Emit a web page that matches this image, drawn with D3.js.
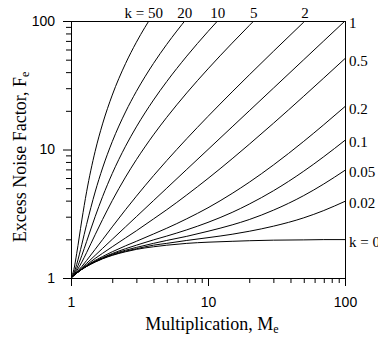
<!DOCTYPE html>
<html>
<head>
<meta charset="utf-8">
<script src="https://cdn.jsdelivr.net/npm/d3@7"></script>
<style>
  html, body { margin: 0; padding: 0; background: #fff; }
  svg { display: block; }
</style>
</head>
<body>
<svg id="chart" width="378" height="338"></svg>
<script>
// Multiplication values shared by every curve
const multiplication = [1, 1.05, 1.1, 1.2, 1.3, 1.5, 1.7, 2, 2.5, 3, 4, 5, 7, 10, 15, 20, 30, 50, 70, 100];

// Excess noise factor for each ionisation ratio k (same order as multiplication)
const fK0    = [1, 1.05, 1.09, 1.17, 1.23, 1.33, 1.41, 1.5, 1.6, 1.67, 1.75, 1.8, 1.86, 1.9, 1.93, 1.95, 1.97, 1.98, 1.99, 1.99];
const fK002  = [1, 1.048, 1.091, 1.167, 1.232, 1.337, 1.418, 1.51, 1.618, 1.69, 1.80, 1.86, 1.96, 2.06, 2.19, 2.31, 2.53, 2.94, 3.35, 3.95];
const fK005  = [1, 1.048, 1.091, 1.17, 1.234, 1.34, 1.426, 1.53, 1.645, 1.73, 1.86, 1.96, 2.11, 2.31, 2.59, 2.85, 3.37, 4.38, 5.39, 6.89];
const fK01   = [1, 1.048, 1.092, 1.17, 1.238, 1.35, 1.441, 1.55, 1.69, 1.8, 1.98, 2.12, 2.37, 2.71, 3.24, 3.76, 4.77, 6.78, 8.79, 11.79];
const fK02   = [1, 1.048, 1.093, 1.17, 1.245, 1.37, 1.469, 1.6, 1.78, 1.93, 2.2, 2.44, 2.89, 3.52, 4.55, 5.56, 7.57, 11.58, 15.59, 21.59];
const fK05   = [1, 1.049, 1.095, 1.18, 1.265, 1.42, 1.556, 1.75, 2.05, 2.33, 2.88, 3.4, 4.43, 5.95, 8.47, 10.98, 15.98, 25.99, 35.99, 51.0];
const fK1    = [1, 1.05, 1.1, 1.2, 1.3, 1.5, 1.7, 2, 2.5, 3, 4, 5, 7, 10, 15, 20, 30, 50, 70, 100];
const fK2    = [1, 1.052, 1.109, 1.23, 1.369, 1.67, 1.988, 2.5, 3.4, 4.33, 6.25, 8.2, 12.14, 18.1, 28.07, 38.05, 58.03, 98.02, 138];
const fK5    = [1, 1.06, 1.136, 1.33, 1.577, 2.17, 2.853, 4, 6.1, 8.33, 13, 17.8, 27.57, 42.4, 67.27, 92.2, 142.1];
const fK10   = [1, 1.071, 1.182, 1.5, 1.923, 3, 4.294, 6.5, 10.6, 15, 24.25, 33.8, 53.29, 82.9, 132.6];
const fK20   = [1, 1.095, 1.273, 1.83, 2.615, 4.67, 7.18, 11.5, 19.6, 28.33, 46.75, 65.8, 104.7];
const fK50   = [1, 1.167, 1.545, 2.83, 4.69, 9.67, 15.82, 26.5, 46.6, 68.33, 114.25];

// Curve labels: right-edge labels for curves ending at M = 100, top labels for the rest
const rightLabels = ["k = 0", "0.02", "0.05", "0.1", "0.2", "0.5", "1"];
const topLabels   = ["2", "5", "10", "20", "k = 50"];

// Axis ticks
const xMajorTicks = [1, 10, 100];
const yMajorTicks = [1, 10, 100];

const rightSeries = [fK0, fK002, fK005, fK01, fK02, fK05, fK1];
const topSeries   = [fK2, fK5, fK10, fK20, fK50];

const svg = d3.select("#chart");
const plotLeft = 71, plotRight = 345, plotTop = 21, plotBottom = 278;

const x = d3.scaleLog().domain([1, 100]).range([plotLeft, plotRight]);
const y = d3.scaleLog().domain([1, 100]).range([plotBottom, plotTop]);

const serif = "'Liberation Serif', 'Times New Roman', serif";
const sans = "'Liberation Sans', Arial, sans-serif";

// Minor ticks inside each decade
const minorTicks = [];
[1, 10].forEach(d => { for (let i = 2; i <= 9; i++) minorTicks.push(d * i); });
const allTicks = xMajorTicks.concat(minorTicks);

// Clip curves to the plotting frame
svg.append("defs").append("clipPath").attr("id", "plotClip")
  .append("rect").attr("x", plotLeft).attr("y", plotTop)
  .attr("width", plotRight - plotLeft).attr("height", plotBottom - plotTop);

const line = d3.line()
  .x((d, i) => x(multiplication[i]))
  .y(d => y(d))
  .curve(d3.curveMonotoneX);

const curves = svg.append("g").attr("clip-path", "url(#plotClip)");
rightSeries.concat(topSeries).forEach(s => {
  curves.append("path")
    .attr("d", line(s))
    .attr("fill", "none")
    .attr("stroke", "#000")
    .attr("stroke-width", 1);
});

// Frame: top and right edges
svg.append("line").attr("x1", plotLeft).attr("x2", plotRight + 1).attr("y1", plotTop + 0.5).attr("y2", plotTop + 0.5)
  .attr("stroke", "#000").attr("stroke-width", 1);
svg.append("line").attr("x1", plotRight + 0.5).attr("x2", plotRight + 0.5).attr("y1", plotTop).attr("y2", plotBottom)
  .attr("stroke", "#000").attr("stroke-width", 1);

// Bottom axis
const xAxis = d3.axisBottom(x)
  .tickValues(allTicks)
  .tickSizeOuter(0)
  .tickSize(8)
  .tickPadding(11)
  .tickFormat(d => xMajorTicks.includes(d) ? String(d) : "");
const gx = svg.append("g").attr("transform", `translate(0,${plotBottom})`).call(xAxis);
gx.selectAll(".tick line").filter(d => !xMajorTicks.includes(d)).attr("y2", 5);

// Left axis
const yAxis = d3.axisLeft(y)
  .tickValues(allTicks)
  .tickSizeOuter(0)
  .tickSize(8)
  .tickPadding(8)
  .tickFormat(d => yMajorTicks.includes(d) ? String(d) : "");
const gy = svg.append("g").attr("transform", `translate(${plotLeft},0)`).call(yAxis);
gy.selectAll(".tick line").filter(d => !yMajorTicks.includes(d)).attr("x2", -5);

[gx, gy].forEach(g => {
  g.select(".domain").attr("stroke", "#000").attr("stroke-width", 1);
  g.selectAll(".tick line").attr("stroke", "#000").attr("stroke-width", 1);
  g.selectAll(".tick text").attr("font-family", sans).attr("font-size", 14).attr("fill", "#000");
});

// Right-edge curve labels at each curve's end value
rightSeries.forEach((s, i) => {
  svg.append("text")
    .attr("x", 349)
    .attr("y", y(s[s.length - 1]) + 7)
    .attr("font-family", serif)
    .attr("font-size", 15)
    .attr("fill", "#000")
    .text(rightLabels[i]);
});

// Top curve labels where each curve crosses the upper frame
topSeries.forEach((s, i) => {
  let xc = plotRight;
  for (let j = 0; j < s.length - 1; j++) {
    if (s[j] < 100 && s[j + 1] >= 100) {
      const y0 = y(s[j]), y1 = y(s[j + 1]), yt = y(100);
      const t = (y0 - yt) / (y0 - y1);
      xc = x(multiplication[j]) + t * (x(multiplication[j + 1]) - x(multiplication[j]));
    }
  }
  const lbl = topLabels[i];
  const isPrefixed = lbl.startsWith("k");
  svg.append("text")
    .attr("x", isPrefixed ? xc + 14 : xc)
    .attr("y", 18)
    .attr("text-anchor", isPrefixed ? "end" : "middle")
    .attr("font-family", serif)
    .attr("font-size", 15)
    .attr("fill", "#000")
    .text(lbl);
});

// Axis titles
const xTitle = svg.append("text")
  .attr("x", (plotLeft + plotRight) / 2 + 4)
  .attr("y", 330)
  .attr("text-anchor", "middle")
  .attr("font-family", serif)
  .attr("font-size", 18)
  .attr("fill", "#000");
xTitle.append("tspan").text("Multiplication, M");
xTitle.append("tspan").attr("font-size", 12).attr("dy", 3).text("e");

const yTitle = svg.append("text")
  .attr("transform", `translate(26,157) rotate(-90)`)
  .attr("text-anchor", "middle")
  .attr("font-family", serif)
  .attr("font-size", 18)
  .attr("fill", "#000");
yTitle.append("tspan").text("Excess Noise Factor, F");
yTitle.append("tspan").attr("font-size", 12).attr("dy", 3).text("e");
</script>
</body>
</html>
